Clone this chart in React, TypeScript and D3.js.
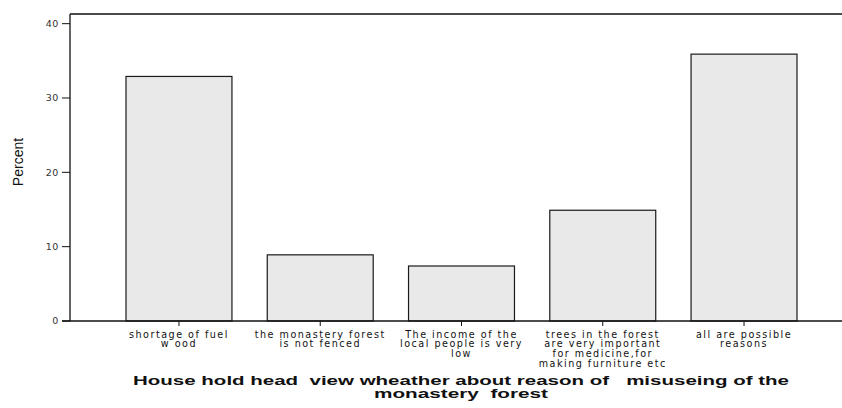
import { useRef, useEffect } from 'react';
import * as d3 from 'd3';

const categories = [
  ['shortage of fuel', 'w ood'],
  ['the monastery forest', 'is not fenced'],
  ['The income of the', 'local people is very', 'low'],
  ['trees in the forest', 'are very important', 'for medicine,for', 'making furniture etc'],
  ['all are possible', 'reasons'],
];
const percents = [32.9, 8.9, 7.4, 14.9, 35.9];
const yTicks = [0, 10, 20, 30, 40];
const yMaxValue = 41.3;
const titleLines = [
  'House hold head  view wheather about reason of   misuseing of the',
  'monastery  forest',
];
// rendered widths of the two title lines
const titleWidths = [656, 174];

const WIDTH = 842;
const HEIGHT = 408;

export default function App() {
  const svgRef = useRef<SVGSVGElement>(null);

  useEffect(() => {
    if (!svgRef.current) return;
    const svg = d3.select(svgRef.current);
    svg.selectAll('*').remove();

    const font = 'Liberation Sans, Arial, sans-serif';
    const wideFont = 'DejaVu Sans, Verdana, sans-serif';
    const axisLeft = 70;
    const axisBottom = 321;
    const top = 14;

    svg.append('rect').attr('width', WIDTH).attr('height', HEIGHT).attr('fill', '#fff');

    const x = d3
      .scaleBand<number>()
      .domain(d3.range(percents.length))
      .range([126, 797])
      .paddingInner(0.25)
      .paddingOuter(0);

    const y = d3.scaleLinear().domain([0, yMaxValue]).range([axisBottom, top]);

    // Bars
    svg
      .append('g')
      .selectAll('rect')
      .data(percents)
      .join('rect')
      .attr('x', (_, i) => x(i)!)
      .attr('y', (d) => y(d))
      .attr('width', x.bandwidth())
      .attr('height', (d) => y(0) - y(d))
      .attr('fill', '#e9e9e9')
      .attr('stroke', '#1a1a1a')
      .attr('stroke-width', 1.2);

    // Frame: top line, left axis, bottom axis
    svg
      .append('line')
      .attr('x1', axisLeft)
      .attr('x2', WIDTH)
      .attr('y1', top)
      .attr('y2', top)
      .attr('stroke', '#111')
      .attr('stroke-width', 1.5);
    svg
      .append('line')
      .attr('x1', axisLeft)
      .attr('x2', axisLeft)
      .attr('y1', top)
      .attr('y2', axisBottom)
      .attr('stroke', '#111')
      .attr('stroke-width', 1.3);
    svg
      .append('line')
      .attr('x1', axisLeft - 8)
      .attr('x2', WIDTH)
      .attr('y1', axisBottom)
      .attr('y2', axisBottom)
      .attr('stroke', '#111')
      .attr('stroke-width', 1.3);

    // Y ticks
    const yAxis = svg.append('g');
    yTicks.forEach((t) => {
      yAxis
        .append('line')
        .attr('x1', axisLeft - 8)
        .attr('x2', axisLeft)
        .attr('y1', y(t))
        .attr('y2', y(t))
        .attr('stroke', '#111');
      yAxis
        .append('text')
        .attr('x', axisLeft - 11)
        .attr('y', y(t))
        .attr('dy', '0.35em')
        .attr('text-anchor', 'end')
        .attr('font-family', wideFont)
        .attr('font-size', 9.5)
        .attr('letter-spacing', 0.6)
        .attr('fill', '#333')
        .text(t);
    });

    svg
      .append('text')
      .attr('transform', `translate(23,162) rotate(-90)`)
      .attr('text-anchor', 'middle')
      .attr('font-family', font)
      .attr('font-size', 14)
      .attr('fill', '#111')
      .text('Percent');

    // X ticks and category labels
    const xAxis = svg.append('g');
    categories.forEach((lines, i) => {
      const cx = x(i)! + x.bandwidth() / 2;
      xAxis
        .append('line')
        .attr('x1', cx)
        .attr('x2', cx)
        .attr('y1', axisBottom)
        .attr('y2', axisBottom + 5)
        .attr('stroke', '#111');
      lines.forEach((line, j) => {
        xAxis
          .append('text')
          .attr('x', cx)
          .attr('y', 337.5 + j * 9.9)
          .attr('text-anchor', 'middle')
          .attr('font-family', wideFont)
          .attr('font-size', 9.6)
          .attr('letter-spacing', 1.5)
          .attr('fill', '#111')
          .text(line);
      });
    });

    // Axis title
    titleLines.forEach((line, j) => {
      svg
        .append('text')
        .attr('x', 461 - titleWidths[j] / 2)
        .attr('y', 385 + j * 13)
        .attr('textLength', titleWidths[j])
        .attr('lengthAdjust', 'spacingAndGlyphs')
        .attr('font-family', font)
        .attr('font-size', 12.5)
        .attr('font-weight', 'bold')
        .style('white-space', 'pre')
        .attr('fill', '#111')
        .text(line);
    });
  }, []);

  return (
    <svg
      ref={svgRef}
      width={WIDTH}
      height={HEIGHT}
      style={{ position: 'absolute', left: 0, top: 0, display: 'block' }}
    />
  );
}
